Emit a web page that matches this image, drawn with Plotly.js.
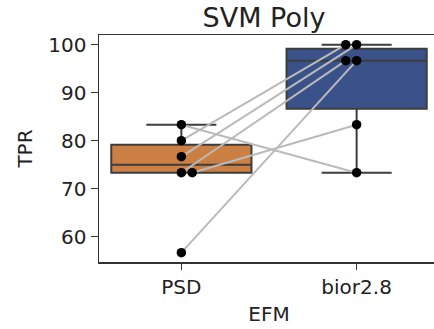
<!DOCTYPE html>
<html>
<head>
<meta charset="utf-8">
<script src="https://cdn.plot.ly/plotly-3.0.1.min.js"></script>
<style>
html,body{margin:0;padding:0;overflow:hidden;background:#fff;}
#chart{width:442px;height:329px;}
</style>
</head>
<body>
<div id="chart"></div>
<script>
// Data (one value per subject, paired across methods)
const categories = ["PSD", "bior2.8"];
const psdTPR  = [83.33, 76.67, 80.00, 56.67, 73.33, 73.33];
const biorTPR = [73.33, 100.00, 100.00, 96.67, 96.67, 83.33];
const yTickVals = [60, 70, 80, 90, 100];
const chartTitle = "SVM Poly";
const xLabel = "EFM";
const yLabel = "TPR";

const series = [psdTPR, biorTPR];
const boxColors = ["#cc7f42", "#3a5189"];
const edge = "#3d3d3d";

// numpy-style linear percentile
function pct(arr, p) {
  const s = arr.slice().sort((a, b) => a - b);
  const pos = (s.length - 1) * p;
  const lo = Math.floor(pos), hi = Math.ceil(pos);
  return s[lo] + (s[hi] - s[lo]) * (pos - lo);
}
function stats(arr) {
  const q1 = pct(arr, 0.25), med = pct(arr, 0.5), q3 = pct(arr, 0.75);
  const iqr = q3 - q1;
  const lo = Math.min(...arr.filter(v => v >= q1 - 1.5 * iqr));
  const hi = Math.max(...arr.filter(v => v <= q3 + 1.5 * iqr));
  return {q1, med, q3, lo, hi};
}

const traces = [];
series.forEach((vals, i) => {
  const s = stats(vals);
  traces.push({
    type: "box", x: [i], q1: [s.q1], median: [s.med], q3: [s.q3],
    lowerfence: [s.lo], upperfence: [s.hi],
    width: 0.8, whiskerwidth: 0.5, boxpoints: false,
    fillcolor: boxColors[i], line: {color: edge, width: 2},
    hoverinfo: "skip", showlegend: false
  });
});

// swarm-like offsets for repeated values
const dir = [1, -1];
const xs = series.map((vals, i) => {
  const seen = {};
  return vals.map(v => {
    const k = v.toFixed(2);
    const c = seen[k] || 0;
    seen[k] = c + 1;
    return i + dir[i] * 0.062 * c;
  });
});

// paired lines
for (let j = 0; j < psdTPR.length; j++) {
  traces.push({
    type: "scatter", mode: "lines",
    x: [xs[0][j], xs[1][j]], y: [psdTPR[j], biorTPR[j]],
    line: {color: "#bababa", width: 2},
    hoverinfo: "skip", showlegend: false
  });
}
// points
series.forEach((vals, i) => {
  traces.push({
    type: "scatter", mode: "markers", x: xs[i], y: vals,
    marker: {color: "#000", size: 9.5},
    hoverinfo: "skip", showlegend: false
  });
});

const font = "DejaVu Sans, sans-serif";
const layout = {
  width: 442, height: 329,
  margin: {l: 99, r: 3, t: 35, b: 67},
  paper_bgcolor: "#fff", plot_bgcolor: "#fff",
  title: {text: chartTitle, font: {family: font, size: 27, color: "#222"},
          x: 264 / 442, xref: "container", xanchor: "center",
          y: 1 - 17.3 / 329, yref: "container", yanchor: "middle"},
  xaxis: {
    range: [-0.47, 1.47], tickvals: [0, 1], ticktext: categories,
    showgrid: false, zeroline: false, showline: true, mirror: true,
    linecolor: "#333", linewidth: 1.5,
    ticks: "outside", ticklen: 6, tickwidth: 1.3, tickcolor: "#333",
    tickfont: {family: font, size: 20, color: "#222"},
    title: {text: xLabel, font: {family: font, size: 20, color: "#222"}, standoff: 9}
  },
  yaxis: {
    range: [54.73, 102.02], tickvals: yTickVals,
    showgrid: false, zeroline: false, showline: true, mirror: true,
    linecolor: "#333", linewidth: 1.5,
    ticks: "outside", ticklen: 7, tickwidth: 1.3, tickcolor: "#333",
    tickfont: {family: font, size: 20, color: "#222"},
    title: {text: yLabel, font: {family: font, size: 20, color: "#222"}, standoff: 10}
  }
};

Plotly.newPlot("chart", traces, layout, {staticPlot: true, displayModeBar: false});
</script>
</body>
</html>
